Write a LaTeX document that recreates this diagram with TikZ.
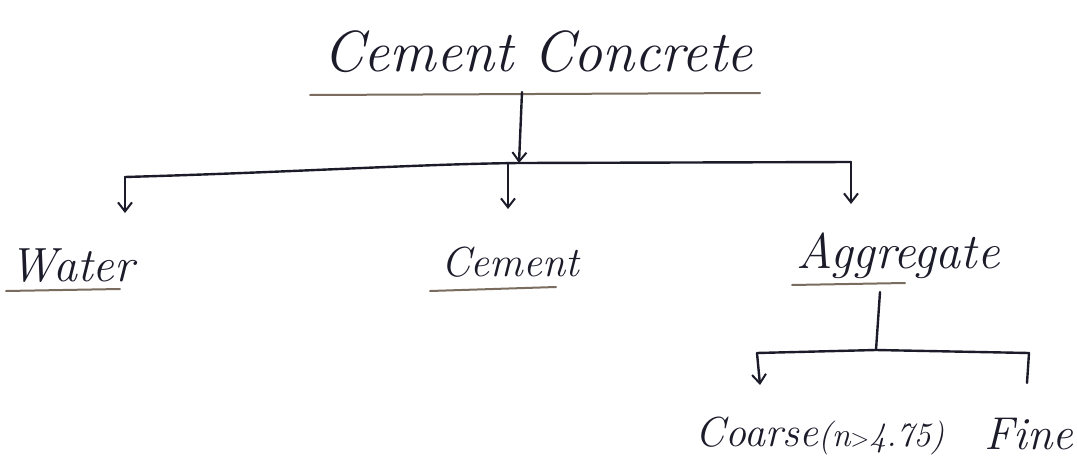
\documentclass[tikz,border=0pt]{standalone}
\usetikzlibrary{arrows.meta}
\definecolor{ink}{HTML}{1B1B2A}
\definecolor{uline}{HTML}{7A6C5E}
\begin{document}
\begin{tikzpicture}[x=1pt,y=-1pt,
  lbl/.style={inner sep=0pt, text=ink, font=\itshape\fontsize{42}{46}\selectfont},
  ttl/.style={inner sep=0pt, text=ink, font=\itshape\fontsize{58}{62}\selectfont},
  ink line/.style={draw=ink, line width=2.4pt, line cap=round},
  arr/.style={ink line, -{Straight Barb[length=9pt,width=14pt,line width=2pt]}},
  ul/.style={draw=uline, line width=2pt, line cap=round}]
\useasboundingbox (0,0) rectangle (1077,466);
% nodes
\node[ttl] (title) at (538,52) {Cement Concrete};
\node[lbl, font=\itshape\fontsize{48}{52}\selectfont] (water) at (72,266) {Water};
\node[lbl] (cement) at (510,262) {Cement};
\node[lbl, font=\itshape\fontsize{50}{54}\selectfont] (aggr) at (898,256) {Aggregate};
\node[lbl, font=\itshape\fontsize{42}{46}\selectfont] (coarse) at (820,436) {Coarse{\fontsize{34}{38}\selectfont(n$>$4.75)}};
\node[lbl, font=\itshape\fontsize{46}{50}\selectfont] (fine) at (1029,434) {Fine};
% underlines
\draw[ul] (310,95) -- (760,93);
\draw[ul] (6,291) -- (120,289);
\draw[ul] (430,291) -- (556,287);
\draw[ul] (792,285) -- (905,283);
% junction coordinates
\coordinate (t0) at (522,92);
\coordinate (j0) at (519,163);
\coordinate (jl) at (125,177);
\coordinate (jm) at (508,164);
\coordinate (jr) at (851,162);
\coordinate (a0) at (880,292);
\coordinate (j1) at (876,350);
\coordinate (kl) at (757,353);
\coordinate (kr) at (1029,353);
% connectors
\draw[arr] (t0) -- (j0);
\draw[ink line] (jl) .. controls (300,172) and (420,164) .. (520,163) -- (jr);
\draw[arr] (jl) -- ++(0,36);
\draw[arr] (jm) -- ++(0,45);
\draw[arr] (jr) -- ++(0,42);
\draw[ink line] (a0) -- (j1);
\draw[ink line] (kl) -- (j1) -- (kr);
\draw[arr] (kl) -- ++(3,32);
\draw[ink line] (kr) -- ++(-2,30);
\end{tikzpicture}
\end{document}
